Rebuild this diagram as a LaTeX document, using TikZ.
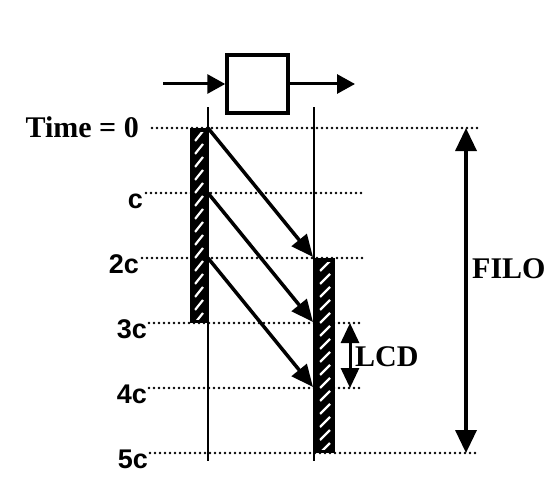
\documentclass[tikz,border=0pt]{standalone}
\usepackage{fontspec}
\setmainfont{Liberation Serif}
\newfontfamily\lblfont{Liberation Sans}
\usetikzlibrary{arrows.meta}
\begin{document}
\begin{tikzpicture}[x=1pt,y=-1pt,
  timeline/.style={line width=2.8pt, dash pattern=on 0pt off 5pt, line cap=round},
  guide/.style={line width=2pt},
  flow/.style={line width=3pt,-{Triangle[length=18pt,width=19pt]}},
  diag/.style={line width=3.5pt,-{Triangle[length=22pt,width=19pt]}},
  span/.style={line width=3.5pt,{Triangle[length=23pt,width=21pt]}-{Triangle[length=23pt,width=21pt]}},
  spansmall/.style={line width=3pt,{Triangle[length=20pt,width=18pt]}-{Triangle[length=20pt,width=18pt]}},
  lbl/.style={font=\lblfont\bfseries\fontsize{27}{29}\selectfont, anchor=base east, inner sep=0pt},
  txt/.style={font=\bfseries\fontsize{30}{32}\selectfont, inner sep=0pt},
  procbox/.style={draw, line width=3.5pt, minimum width=61pt, minimum height=58pt, inner sep=0pt},
  barbox/.style={fill=black, inner sep=0pt, minimum height=195pt},
  slash/.style={white, line width=2.2pt},
]
\useasboundingbox (0,0) rectangle (553,492);

% process box with input/output arrows
\node[procbox] (proc) at (257.5,84) {};
\coordinate (in) at (163,84);
\coordinate (out) at (355,84);
\draw[flow] (in) -- (proc.west);
\draw[flow] (proc.east) -- (out);

% time labels
\node[txt, anchor=base east] (t0) at (139,137) {Time = 0};
\node[lbl] (t1) at (143,208) {c};
\node[lbl] (t2) at (139,273) {2c};
\node[lbl] (t3) at (147,338) {3c};
\node[lbl] (t4) at (147,403) {4c};
\node[lbl] (t5) at (148,468) {5c};

% dotted time lines
\coordinate (d0a) at (152,128); \coordinate (d0b) at (478,128);
\coordinate (d1a) at (146,193); \coordinate (d1b) at (362,193);
\coordinate (d2a) at (142,258); \coordinate (d2b) at (362,258);
\coordinate (d3a) at (149,323); \coordinate (d3b) at (362,323);
\coordinate (d4a) at (149,388); \coordinate (d4b) at (362,388);
\coordinate (d5a) at (150,453); \coordinate (d5b) at (478,453);
\foreach \i in {0,...,5} \draw[timeline] (d\i a) -- (d\i b);

% vertical guides
\coordinate (lt) at (208,107); \coordinate (lb) at (208,461);
\coordinate (rt) at (314,107); \coordinate (rb) at (314,461);

% hatched bars
\node[barbox, minimum width=18pt] (lbar) at (199,225.5) {};
\node[barbox, minimum width=20pt] (rbar) at (325,355.5) {};
\begin{scope}
  \clip (194.5,132) rectangle (204,319);
  \foreach \y in {141,154,...,330} \draw[slash] (195,\y) -- (203,\y-10);
\end{scope}
\begin{scope}
  \clip (319.5,262) rectangle (331,449);
  \foreach \y in {271,284,...,460} \draw[slash] (320,\y) -- (330,\y-10);
\end{scope}
\draw[guide] (lt) -- (lb);
\draw[guide] (rt) -- (rb);

% transfer arrows
\coordinate (s0) at (208,128); \coordinate (e0) at (313,257);
\coordinate (s1) at (208,193); \coordinate (e1) at (313,322);
\coordinate (s2) at (208,258); \coordinate (e2) at (313,387);
\foreach \i in {0,1,2} \draw[diag] (s\i) -- (e\i);

% LCD span
\coordinate (lcdt) at (350,323); \coordinate (lcdb) at (350,388);
\draw[spansmall] (lcdt) -- (lcdb);
\node[txt, anchor=base west] (lcd) at (355,366) {LCD};

% FILO span
\coordinate (filot) at (466,128); \coordinate (filob) at (466,453);
\draw[span] (filot) -- (filob);
\node[txt, anchor=base west] (filo) at (472,278) {FILO};
\end{tikzpicture}
\end{document}
